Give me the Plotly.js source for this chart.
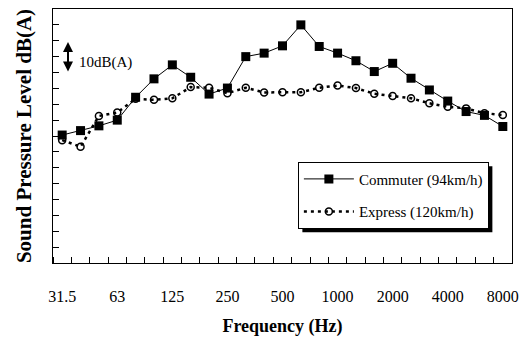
<!DOCTYPE html>
<html>
<head>
<meta charset="utf-8">
<script src="https://cdn.plot.ly/plotly-3.0.1.min.js"></script>
<style>html,body{margin:0;padding:0;background:#fff;}#chart{width:520px;height:342px;}</style>
</head>
<body>
<div id="chart"></div>
<script>
// One-third octave band centre frequencies (Hz)
const bands = ["31.5","40","50","63","80","100","125","160","200","250","315","400","500","630","800","1000","1250","1600","2000","2500","3150","4000","5000","6300","8000"];
const tickLabels = ["31.5","63","125","250","500","1000","2000","4000","8000"];
// Sound pressure level, dB(A) (relative scale)
const commuter = [70.3, 71.7, 73.2, 75.0, 82.2, 88.0, 92.4, 88.5, 83.2, 85.1, 95.0, 96.1, 98.4, 105.0, 98.2, 96.1, 93.7, 90.3, 92.9, 88.2, 84.5, 81.0, 77.7, 76.5, 73.0];
const express  = [68.7, 66.6, 76.3, 77.4, 81.7, 81.4, 81.9, 85.4, 85.2, 83.5, 85.2, 83.7, 83.8, 83.8, 85.2, 85.9, 85.1, 83.3, 82.6, 81.9, 80.3, 79.2, 78.7, 77.2, 76.6];
const seriesNames = ["Commuter (94km/h)", "Express (120km/h)"];

const idx = bands.map((b, i) => i);
const tickIdx = tickLabels.map(t => bands.indexOf(t));
const serif = "Liberation Serif, Times New Roman, serif";

const traces = [
  {
    x: idx, y: commuter, name: seriesNames[0], type: "scatter", mode: "lines+markers",
    line: {color: "#000", width: 1},
    marker: {symbol: "square", size: 9, color: "#000"},
    legendgroup: "a", text: bands, hoverinfo: "text+y"
  },
  {
    x: idx, y: express, name: seriesNames[1], type: "scatter", mode: "lines+markers",
    line: {color: "#000", width: 2.5, dash: "3px,4px"},
    marker: {symbol: "circle-open", size: 7, color: "#000", line: {width: 1.5}},
    legendgroup: "b", text: bands, hoverinfo: "text+y"
  }
];

const layout = {
  width: 520, height: 342,
  margin: {l: 53, r: 8, t: 9, b: 79},
  paper_bgcolor: "#fff", plot_bgcolor: "#fff",
  font: {family: serif, color: "#000", size: 14},
  showlegend: true,
  legend: {
    x: 0.5335, y: 0.399, xanchor: "left", yanchor: "top",
    bgcolor: "#fff", bordercolor: "#000", borderwidth: 1,
    font: {family: serif, size: 15, color: "#000"},
    itemwidth: 50,
    traceorder: "grouped", tracegroupgap: 10
  },
  xaxis: {
    range: [-0.5, 24.5],
    tickmode: "array", tickvals: tickIdx, ticktext: tickLabels,
    ticks: "", ticklabelstandoff: 19,
    tickfont: {family: serif, size: 16},
    minor: {tickmode: "linear", tick0: 0.5, dtick: 1, ticks: "inside", ticklen: 6, tickcolor: "#000", tickwidth: 1},
    showline: true, linecolor: "#000", linewidth: 1, mirror: true,
    showgrid: false, zeroline: false,
    title: {text: "Frequency (Hz)", font: {family: serif, size: 18, weight: "bold"}, standoff: 15}
  },
  yaxis: {
    range: [30, 110], tickmode: "linear", tick0: 30, dtick: 5,
    ticks: "inside", ticklen: 6, tickcolor: "#000",
    showticklabels: false,
    showline: true, linecolor: "#000", linewidth: 1, mirror: true,
    showgrid: false, zeroline: false,
    title: {text: "Sound Pressure Level dB(A)", font: {family: serif, size: 21, weight: "bold"}, standoff: 14}
  },
  shapes: [
    {type: "rect", xref: "paper", yref: "paper", layer: "above",
     x0: (302 - 53) / 459, x1: (489 - 53) / 459, y0: (263 - 226) / 253.5, y1: (263 - 166) / 253.5,
     fillcolor: "#000", line: {width: 0}}
  ],
  annotations: [
    {xref: "paper", yref: "y", x: (68 - 53) / 459, y: 99.6, ax: 0, ay: 31, axref: "pixel", ayref: "pixel",
     showarrow: true, arrowside: "end+start", arrowhead: 2, arrowsize: 1, arrowwidth: 2, arrowcolor: "#000", text: ""},
    {xref: "paper", yref: "y", x: (77 - 53) / 459, y: 93.0, xanchor: "left", yanchor: "middle",
     showarrow: false, text: "10dB(A)", font: {family: serif, size: 15, color: "#000"}}
  ]
};

Plotly.newPlot("chart", traces, layout, {staticPlot: true, displayModeBar: false}).then(gd => {
  // place the drop shadow just behind the drawn legend box
  const bg = gd.querySelector(".legend .bg");
  if (!bg) return;
  const r = bg.getBoundingClientRect();
  const c = gd.getBoundingClientRect();
  const fl = gd._fullLayout, s = fl._size;
  const off = 4;
  const x0 = (r.left - c.left + off - s.l) / s.w, x1 = (r.right - c.left + off - s.l) / s.w;
  const y1 = 1 - (r.top - c.top + off - s.t) / s.h, y0 = 1 - (r.bottom - c.top + off - s.t) / s.h;
  Plotly.relayout(gd, {"shapes[0].x0": x0, "shapes[0].x1": x1, "shapes[0].y0": y0, "shapes[0].y1": y1});
});
</script>
</body>
</html>
